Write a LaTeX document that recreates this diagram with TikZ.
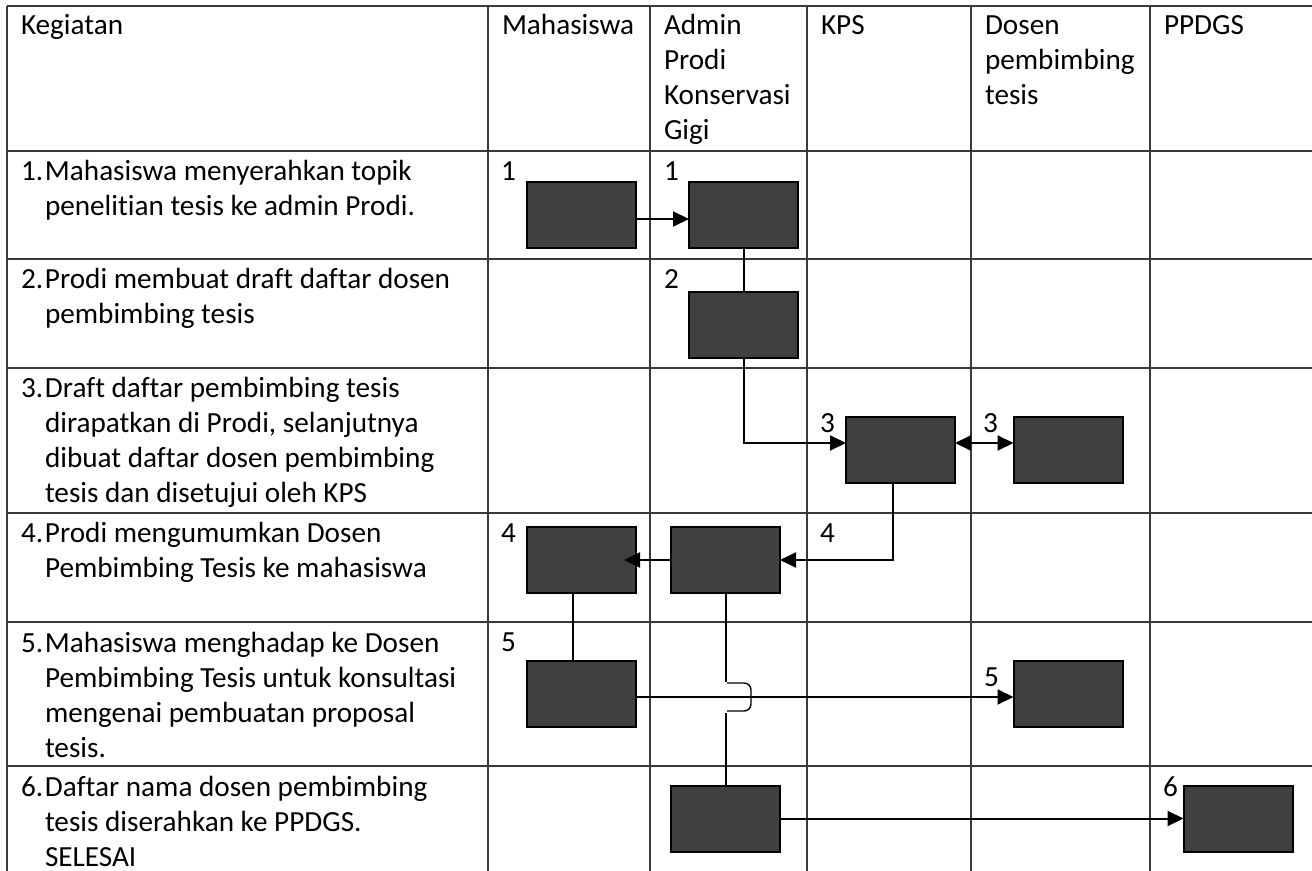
\documentclass[tikz,border=0pt]{standalone}
\usepackage{fontspec}
\setmainfont[Ligatures={NoCommon,NoContextual},Contextuals={NoAlternate}]{Carlito}
\usetikzlibrary{arrows.meta}
\definecolor{boxgray}{HTML}{404040}
\definecolor{gridc}{HTML}{3A3A3A}
\newcommand{\steptext}[2]{\parbox[t]{300pt}{\hangindent=12pt\hangafter=1\noindent\makebox[12pt][l]{#1}#2}}
\newcommand{\headtext}[1]{\parbox[t]{150pt}{#1}}
\begin{document}
\begin{tikzpicture}[x=0.5pt,y=-0.5pt,
  every node/.style={inner sep=0pt, outer sep=0pt, font=\fontsize{14.6pt}{17.5pt}\selectfont},
  txt/.style={anchor=base west},
  act/.style={draw=black, line width=1pt, fill=boxgray, minimum width=54.5pt, minimum height=33pt},
  conn/.style={line width=1pt},
  arr/.style={conn, -{Triangle[length=8pt,width=7.5pt]}},
  darr/.style={conn, {Triangle[length=8pt,width=7.5pt]}-{Triangle[length=8pt,width=7.5pt]}},
  gridline/.style={draw=gridc, line width=0.7pt}]
\useasboundingbox (0,0) rectangle (1312,871);
% table grid
\foreach \yy in {6,151,259,368,513,622,766}
  \draw[gridline] (7,\yy) -- (1312,\yy);
\foreach \xx in {7,488,650,807,971,1150}
  \draw[gridline] (\xx,6) -- (\xx,871);
% header
\node[txt] (hk) at (21,35) {\headtext{Kegiatan}};
\node[txt] (hm) at (502,35) {\headtext{Mahasiswa}};
\node[txt] (ha) at (664,35) {\headtext{Admin\\Prodi\\Konservasi\\Gigi}};
\node[txt] (hkps) at (821,35) {\headtext{KPS}};
\node[txt] (hd) at (985,35) {\headtext{Dosen\\pembimbing\\tesis}};
\node[txt] (hp) at (1164,35) {\headtext{PPDGS}};
% step texts
\node[txt] (s1) at (21,181) {\steptext{1.}{Mahasiswa menyerahkan topik\\penelitian tesis ke admin Prodi.}};
\node[txt] (s2) at (21,289) {\steptext{2.}{Prodi membuat draft daftar dosen\\pembimbing tesis}};
\node[txt] (s3) at (21,398) {\steptext{3.}{Draft daftar pembimbing tesis\\dirapatkan di Prodi, selanjutnya\\dibuat daftar dosen pembimbing\\tesis dan disetujui oleh KPS}};
\node[txt] (s4) at (21,542) {\steptext{4.}{Prodi mengumumkan Dosen\\Pembimbing Tesis ke mahasiswa}};
\node[txt] (s5) at (21,652) {\steptext{5.}{Mahasiswa menghadap ke Dosen\\Pembimbing Tesis untuk konsultasi\\mengenai pembuatan proposal\\tesis.}};
\node[txt] (s6) at (21,796) {\steptext{6.}{Daftar nama dosen pembimbing\\tesis diserahkan ke PPDGS.\\SELESAI}};
% activity boxes
\node[act] (m1) at (581.5,215) {};
\node[act] (a1) at (743.5,215) {};
\node[act] (a2) at (743.5,325) {};
\node[act] (k3) at (900.5,450) {};
\node[act] (d3) at (1068,450) {};
\node[act] (m4) at (581.5,560) {};
\node[act] (a4) at (725.5,560) {};
\node[act] (m5) at (581,693.5) {};
\node[act] (d5) at (1068,693.5) {};
\node[act] (a6) at (725.5,818.5) {};
\node[act] (p6) at (1238,819) {};
% number labels
\node[txt] (l1m) at (501,181) {1};
\node[txt] (l1a) at (664,181) {1};
\node[txt] (l2a) at (664,289) {2};
\node[txt] (l3k) at (820,433) {3};
\node[txt] (l3d) at (983,433) {3};
\node[txt] (l4m) at (501,542) {4};
\node[txt] (l4k) at (820,542) {4};
\node[txt] (l5m) at (501,651) {5};
\node[txt] (l5d) at (984,686) {5};
\node[txt] (l6p) at (1163,796) {6};
% connectors
\draw[arr] ([yshift=-2pt]m1.east) -- ([yshift=-2pt]a1.west);
\draw[conn] (a1.south) -- (a2.north);
\draw[arr] (a2.south) |- ([yshift=3.5pt]k3.west);
\draw[darr] ([yshift=3.5pt]k3.east) -- ([yshift=3.5pt]d3.west);
\draw[arr] ([xshift=-3.75pt]k3.south) |- (a4.east);
\draw[arr] (a4.west) -- ([xshift=-6pt]m4.east);
\draw[conn] ([xshift=-4.25pt]m4.south) -- ([xshift=-4.25pt]m4.south |- m5.north);
\draw[arr] ([yshift=-1.75pt]m5.east) -- ([yshift=-1.75pt]d5.west);
\coordinate (j1) at (725.5,682);
\coordinate (j2) at (725.5,713);
\coordinate (hopA) at (727,683);
\coordinate (hopB) at (751,683);
\coordinate (hopC) at (751,711);
\coordinate (hopD) at (727,711);
\draw[conn] (a4.south) -- (j1);
\draw[line width=0.7pt, rounded corners=3.5pt] (hopA) -- (hopB) -- (hopC) -- (hopD);
\draw[conn] (j2) -- (a6.north);
\draw[arr] (a6.east) -- (a6.east -| p6.west);
\end{tikzpicture}
\end{document}
